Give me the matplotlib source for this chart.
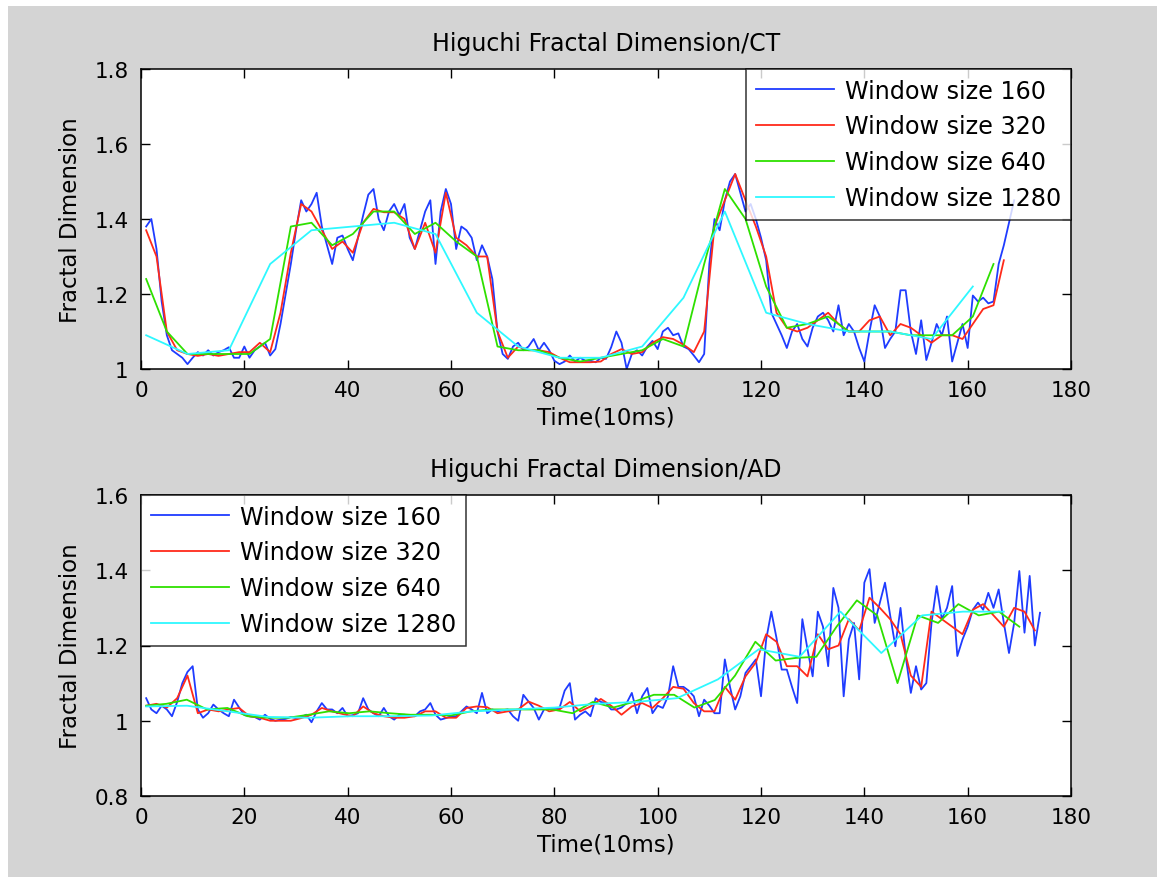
import numpy as np
import matplotlib
matplotlib.use('Agg')
import matplotlib.pyplot as plt
from matplotlib.patches import Rectangle

# ---- top panel (CT) ----
ct_160 = [1.38, 1.40, 1.32, 1.18, 1.09, 1.05, 1.04, 1.03, 1.013, 1.03,
          1.045, 1.036, 1.05, 1.036, 1.045, 1.05, 1.058, 1.03, 1.03, 1.06,
          1.03, 1.05, 1.06, 1.07, 1.036, 1.053, 1.12, 1.20, 1.28, 1.37,
          1.45, 1.42, 1.44, 1.47, 1.38, 1.33, 1.28, 1.35, 1.356, 1.32,
          1.29, 1.35, 1.41, 1.465, 1.48, 1.40, 1.37, 1.42, 1.44, 1.41,
          1.44, 1.35, 1.32, 1.37, 1.42, 1.45, 1.28, 1.42, 1.48, 1.44,
          1.32, 1.38, 1.37, 1.35, 1.29, 1.33, 1.30, 1.24, 1.10, 1.04,
          1.027, 1.06, 1.07, 1.05, 1.06, 1.08, 1.05, 1.07, 1.05, 1.022,
          1.013, 1.02, 1.036, 1.02, 1.03, 1.022, 1.022, 1.018, 1.03, 1.027,
          1.058, 1.10, 1.07, 1.00, 1.04, 1.05, 1.036, 1.06, 1.075, 1.053,
          1.10, 1.11, 1.09, 1.095, 1.06, 1.053, 1.036, 1.018, 1.04, 1.28,
          1.40, 1.37, 1.45, 1.50, 1.52, 1.47, 1.42, 1.44, 1.40, 1.35,
          1.29, 1.15, 1.12, 1.09, 1.056, 1.10, 1.12, 1.08, 1.06, 1.11,
          1.14, 1.15, 1.13, 1.10, 1.17, 1.09, 1.12, 1.10, 1.056, 1.02,
          1.10, 1.17, 1.14, 1.056, 1.08, 1.10, 1.21, 1.21, 1.10, 1.04,
          1.13, 1.024, 1.07, 1.12, 1.09, 1.14, 1.02, 1.07, 1.12, 1.056,
          1.196, 1.18, 1.19, 1.175, 1.18, 1.28, 1.33, 1.39, 1.45]
ct_320 = [1.37, 1.30, 1.10, 1.05, 1.04, 1.035, 1.04, 1.035, 1.04, 1.045,
          1.045, 1.07, 1.045, 1.15, 1.31, 1.44, 1.42, 1.37, 1.32, 1.34,
          1.31, 1.39, 1.427, 1.418, 1.418, 1.40, 1.32, 1.39, 1.31, 1.47,
          1.35, 1.33, 1.30, 1.30, 1.10, 1.03, 1.06, 1.05, 1.05, 1.045,
          1.03, 1.018, 1.018, 1.018, 1.02, 1.04, 1.053, 1.04, 1.045, 1.07,
          1.085, 1.08, 1.065, 1.045, 1.10, 1.38, 1.45, 1.52, 1.45, 1.38,
          1.30, 1.15, 1.11, 1.10, 1.11, 1.13, 1.15, 1.12, 1.10, 1.10,
          1.13, 1.14, 1.09, 1.12, 1.11, 1.09, 1.07, 1.09, 1.09, 1.08,
          1.12, 1.16, 1.17, 1.29]
ct_640 = [1.24, 1.10, 1.04, 1.04, 1.04, 1.04, 1.08, 1.38, 1.39, 1.33,
          1.36, 1.42, 1.42, 1.36, 1.39, 1.34, 1.30, 1.06, 1.05, 1.05,
          1.03, 1.02, 1.03, 1.04, 1.05, 1.08, 1.06, 1.28, 1.48, 1.40,
          1.22, 1.11, 1.12, 1.14, 1.10, 1.10, 1.10, 1.09, 1.09, 1.09,
          1.14, 1.28]
ct_1280 = [1.09, 1.04, 1.05, 1.28, 1.37, 1.38, 1.39, 1.36, 1.15, 1.06,
           1.03, 1.03, 1.06, 1.19, 1.42, 1.15, 1.12, 1.10, 1.10, 1.08,
           1.22]

# ---- bottom panel (AD) ----
ad_160 = [1.06, 1.03, 1.02, 1.04, 1.03, 1.012, 1.05, 1.10, 1.13, 1.145,
          1.03, 1.008, 1.02, 1.043, 1.03, 1.02, 1.012, 1.056, 1.035, 1.015,
          1.012, 1.01, 1.003, 1.016, 1.005, 1.0, 1.003, 1.005, 1.01, 1.007,
          1.01, 1.016, 0.996, 1.025, 1.047, 1.03, 1.03, 1.02, 1.034, 1.012,
          1.015, 1.02, 1.06, 1.03, 1.02, 1.012, 1.034, 1.012, 1.003, 1.016,
          1.016, 1.014, 1.012, 1.025, 1.03, 1.047, 1.016, 1.003, 1.007, 1.012,
          1.012, 1.025, 1.038, 1.03, 1.02, 1.074, 1.02, 1.03, 1.025, 1.028,
          1.03, 1.012, 1.0, 1.069, 1.051, 1.034, 1.003, 1.03, 1.034, 1.034,
          1.034, 1.08, 1.10, 1.003, 1.016, 1.025, 1.012, 1.06, 1.05, 1.047,
          1.03, 1.03, 1.035, 1.047, 1.074, 1.02, 1.065, 1.087, 1.02, 1.04,
          1.034, 1.065, 1.145, 1.09, 1.09, 1.08, 1.065, 1.012, 1.056, 1.04,
          1.02, 1.02, 1.163, 1.09, 1.03, 1.065, 1.127, 1.145, 1.163, 1.065,
          1.216, 1.29, 1.22, 1.136, 1.136, 1.09, 1.047, 1.27, 1.19, 1.118,
          1.29, 1.25, 1.145, 1.353, 1.30, 1.065, 1.216, 1.26, 1.11, 1.367,
          1.403, 1.26, 1.314, 1.367, 1.28, 1.198, 1.30, 1.172, 1.074, 1.145,
          1.083, 1.10, 1.26, 1.358, 1.27, 1.30, 1.358, 1.172, 1.216, 1.25,
          1.295, 1.314, 1.295, 1.34, 1.30, 1.349, 1.26, 1.18, 1.26, 1.398,
          1.234, 1.385, 1.20, 1.287]
ad_320 = [1.04, 1.045, 1.035, 1.06, 1.12, 1.02, 1.03, 1.025, 1.03, 1.034,
          1.012, 1.008, 1.0, 1.0, 1.0, 1.007, 1.016, 1.034, 1.025, 1.018,
          1.012, 1.038, 1.02, 1.012, 1.008, 1.008, 1.012, 1.025, 1.025, 1.008,
          1.008, 1.034, 1.038, 1.036, 1.02, 1.025, 1.03, 1.051, 1.04, 1.025,
          1.03, 1.05, 1.025, 1.038, 1.058, 1.04, 1.016, 1.038, 1.047, 1.034,
          1.06, 1.09, 1.085, 1.047, 1.025, 1.025, 1.09, 1.056, 1.118, 1.155,
          1.23, 1.21, 1.145, 1.145, 1.118, 1.23, 1.19, 1.20, 1.27, 1.24,
          1.327, 1.30, 1.27, 1.23, 1.12, 1.09, 1.29, 1.27, 1.25, 1.23,
          1.295, 1.31, 1.28, 1.25, 1.30, 1.29, 1.24]
ad_640 = [1.04, 1.045, 1.056, 1.03, 1.034, 1.012, 1.008, 1.008, 1.016, 1.025,
          1.02, 1.025, 1.02, 1.016, 1.016, 1.014, 1.025, 1.03, 1.03, 1.03,
          1.03, 1.02, 1.05, 1.035, 1.05, 1.069, 1.069, 1.035, 1.055, 1.12,
          1.21, 1.16, 1.167, 1.17, 1.25, 1.32, 1.28, 1.10, 1.28, 1.26,
          1.31, 1.28, 1.29, 1.25]
ad_1280 = [1.038, 1.04, 1.025, 1.01, 1.008, 1.012, 1.012, 1.014, 1.025, 1.03,
           1.035, 1.045, 1.05, 1.06, 1.11, 1.19, 1.17, 1.29, 1.18, 1.28,
           1.29, 1.29]

labels = ['Window size 160', 'Window size 320', 'Window size 640', 'Window size 1280']
colors = ['#1f3cff', '#ff2a1a', '#2ee000', '#2ef8ff']

plt.rcParams['font.family'] = ['DejaVu Sans']
plt.rcParams['font.size'] = 15.5

fig = plt.figure(figsize=(11.57, 8.78), dpi=100, facecolor='#d4d4d4')
# thin white strips along the top and left edge
fig.patches.append(Rectangle((0, 1 - 7 / 878), 1, 7 / 878, transform=fig.transFigure,
                             facecolor='white', edgecolor='none', zorder=-10))
fig.patches.append(Rectangle((0, 0), 8 / 1157, 1, transform=fig.transFigure,
                             facecolor='white', edgecolor='none', zorder=-10))


def panel(rect, series, ends, title, ylim, yticks, yticklabels, legend_loc):
    ax = fig.add_axes(rect)
    for vals, (x0, x1), c, lab in zip(series, ends, colors, labels):
        xs = np.linspace(x0, x1, len(vals))
        ax.plot(xs, vals, color=c, lw=1.3, label=lab)
    ax.set_xlim(0, 180)
    ax.set_ylim(*ylim)
    ax.set_xticks(range(0, 181, 20))
    ax.set_yticks(yticks)
    ax.set_yticklabels(yticklabels)
    ax.tick_params(direction='in', length=6.5, width=1, top=True, right=True)
    ax.tick_params(axis='x', pad=8)
    ax.tick_params(axis='y', pad=9)
    for s in ax.spines.values():
        s.set_linewidth(1.1)
    ax.set_title(title, fontsize=17, pad=14)
    ax.set_xlabel('Time(10ms)', fontsize=16.5, labelpad=4)
    ax.set_ylabel('Fractal Dimension', fontsize=16.5, labelpad=9)
    leg = ax.legend(loc=legend_loc, fontsize=17.2, frameon=True, fancybox=False,
                    borderaxespad=0, handlelength=3.3, handletextpad=0.45,
                    labelspacing=0.5, borderpad=0.4)
    leg.get_frame().set_edgecolor('black')
    leg.get_frame().set_linewidth(1.1)
    return ax


panel([141 / 1157, 1 - 370 / 878, 930 / 1157, 300 / 878],
      [ct_160, ct_320, ct_640, ct_1280],
      [(1, 169), (1, 167), (1, 165), (1, 161)],
      'Higuchi Fractal Dimension/CT', (1.0, 1.8),
      [1.0, 1.2, 1.4, 1.6, 1.8], ['1', '1.2', '1.4', '1.6', '1.8'], 'upper right')

panel([141 / 1157, 1 - 797 / 878, 930 / 1157, 301 / 878],
      [ad_160, ad_320, ad_640, ad_1280],
      [(1, 174), (1, 173), (1, 170), (1, 167)],
      'Higuchi Fractal Dimension/AD', (0.8, 1.6),
      [0.8, 1.0, 1.2, 1.4, 1.6], ['0.8', '1', '1.2', '1.4', '1.6'], 'upper left')

fig.savefig('out.png', dpi=100, facecolor=fig.get_facecolor())
